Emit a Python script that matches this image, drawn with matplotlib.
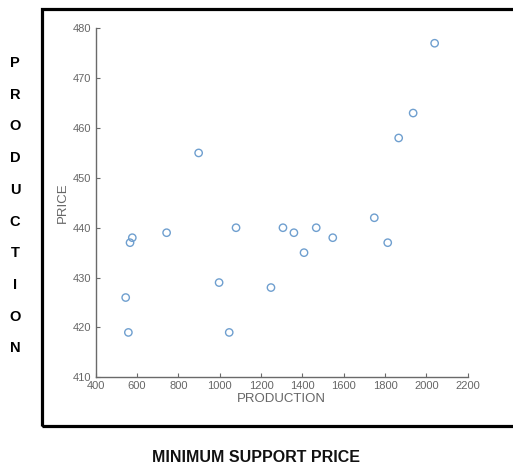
import matplotlib.pyplot as plt
from matplotlib.patches import Rectangle

# production vs price
production = [2040, 1936, 1866, 898, 1748, 1079, 1306, 1467, 1359, 743,
              577, 566, 1547, 1813, 1408, 997, 1248, 545, 558, 1046]
price = [477, 463, 458, 455, 442, 440, 440, 440, 439, 439,
         438, 437, 438, 437, 435, 429, 428, 426, 419, 419]

x_ticks = [400, 600, 800, 1000, 1200, 1400, 1600, 1800, 2000, 2200]
y_ticks = [410, 420, 430, 440, 450, 460, 470, 480]

plt.rcParams['font.family'] = ['Liberation Sans', 'DejaVu Sans']

fig = plt.figure(figsize=(5.13, 4.69), dpi=100)
ax = fig.add_axes([0.1866, 0.1955, 0.7251, 0.7442])

ax.scatter(production, price, s=28, facecolors='none', edgecolors='#6f9fcf', linewidths=1.0)

ax.set_xlim(400, 2200)
ax.set_ylim(410, 480)
ax.set_xticks(x_ticks)
ax.set_yticks(y_ticks)

axis_col = '#6a6a6a'
for side in ['top', 'right']:
    ax.spines[side].set_visible(False)
for side in ['left', 'bottom']:
    ax.spines[side].set_color(axis_col)
    ax.spines[side].set_linewidth(1.0)
ax.tick_params(direction='in', length=3, width=0.8, color=axis_col,
               labelcolor='#666666', labelsize=8, pad=3)

ax.set_xlabel('PRODUCTION', fontsize=9.5, color='#666666', labelpad=1)
ax.set_ylabel('PRICE', fontsize=9.5, color='#666666', labelpad=3)

# black frame around the plot
fig.patches.append(Rectangle((41.7 / 513, 1 - 426 / 469), 1.0, (426 - 9.3) / 469,
                             transform=fig.transFigure, fill=False,
                             edgecolor='black', linewidth=2.3, clip_on=False))

# vertical letters on the left
word = 'PRODUCTION'
for i, ch in enumerate(word):
    y_px = 63 + i * 31.7
    fig.text(15 / 513, 1 - y_px / 469, ch, ha='center', va='center',
             fontsize=10.5, fontweight='bold', color='black')

fig.text(256 / 513, 1 - 457 / 469, 'MINIMUM SUPPORT PRICE', ha='center', va='center',
         fontsize=11.5, fontweight='bold', color='#111111')

fig.savefig('out.png', dpi=100)
